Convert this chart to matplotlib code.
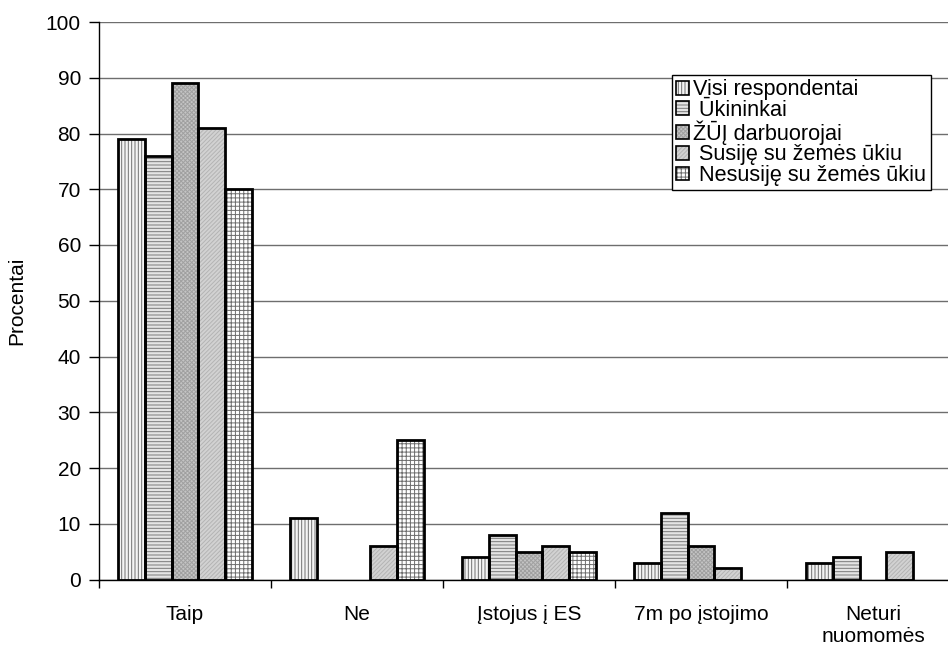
import numpy as np
import matplotlib
matplotlib.use("Agg")
import matplotlib.pyplot as plt
from matplotlib.patches import Patch

# -----------------------------
# Data
# -----------------------------
categories = ["Taip", "Ne", "Įstojus į ES", "7m po įstojimo", "Neturi\nnuomomės"]
series_names = ["Visi respondentai", " Ūkininkai", "ŽŪĮ darbuorojai",
                " Susiję su žemės ūkiu", " Nesusiję su žemės ūkiu"]

visi = [79, 11, 4, 3, 3]
ukininkai = [76, 0, 8, 12, 4]
zui = [89, 0, 5, 6, 0]
susije = [81, 6, 6, 2, 5]
nesusije = [70, 25, 5, 0, 0]

series = [visi, ukininkai, zui, susije, nesusije]

# -----------------------------
# Styles
# -----------------------------
plt.rcParams["font.family"] = ["Liberation Sans", "DejaVu Sans"]
plt.rcParams["hatch.linewidth"] = 0.7

faces = ["#f4f4f4", "#e4e4e4", "#c4c4c4", "#d2d2d2", "white"]
hatches = ["|||||", "-----", "xxxxxxxx", "////////", "++++"]
hatch_cols = ["#707070", "#7a7a7a", "#a0a0a0", "#b4b4b4", "#6e6e6e"]

BAR_W = 0.155
FS = 15

fig = plt.figure(figsize=(9.48, 6.48), dpi=100)
ax = fig.add_axes([99 / 948, 68.5 / 648, 860 / 948, 557.5 / 648])

x = np.arange(len(categories)) + 0.5

handles = []
for i, vals in enumerate(series):
    vals = np.array(vals, dtype=float)
    pos = x + (i - 2) * BAR_W
    keep = vals > 0
    # hatched fill first, then black outline on top
    ax.bar(pos[keep], vals[keep], width=BAR_W, facecolor=faces[i],
           edgecolor=hatch_cols[i], hatch=hatches[i], linewidth=0, zorder=2)
    ax.bar(pos[keep], vals[keep], width=BAR_W, facecolor="none",
           edgecolor="black", linewidth=2.0, zorder=3)
    h_fill = Patch(facecolor=faces[i], edgecolor=hatch_cols[i],
                   hatch=hatches[i], linewidth=0)
    h_edge = Patch(facecolor="none", edgecolor="black", linewidth=1.2)
    handles.append((h_fill, h_edge))

ax.set_xlim(0, 5)
ax.set_ylim(0, 100)
ax.set_yticks(np.arange(0, 101, 10))
ax.yaxis.grid(True, color="#6e6e6e", linewidth=1.0, zorder=0)
ax.set_axisbelow(True)

# boundary ticks on x, labels centred under each group
ax.set_xticks(np.arange(0, 6))
ax.set_xticklabels([])
ax.set_xticks(x, minor=True)
ax.set_xticklabels(categories, minor=True, fontsize=FS)
ax.tick_params(axis="x", which="major", direction="out", length=6, width=1)
ax.tick_params(axis="x", which="minor", length=0, pad=18)
ax.tick_params(axis="y", direction="out", length=7, width=1, labelsize=FS, pad=6)

for s in ["top", "right"]:
    ax.spines[s].set_visible(False)
for s in ["left", "bottom"]:
    ax.spines[s].set_color("black")
    ax.spines[s].set_linewidth(1.0)

ax.set_ylabel("Procentai", fontsize=FS, labelpad=14)

leg = ax.legend(handles, series_names, loc="upper left",
                bbox_to_anchor=(0.666, 0.905), borderaxespad=0,
                fontsize=15.6, frameon=True, fancybox=False, framealpha=1,
                edgecolor="black", handlelength=0.6, handleheight=0.6,
                handletextpad=0.2, labelspacing=-0.02, borderpad=0.2)
leg.get_frame().set_linewidth(1.0)

fig.savefig("out.png", dpi=100)
